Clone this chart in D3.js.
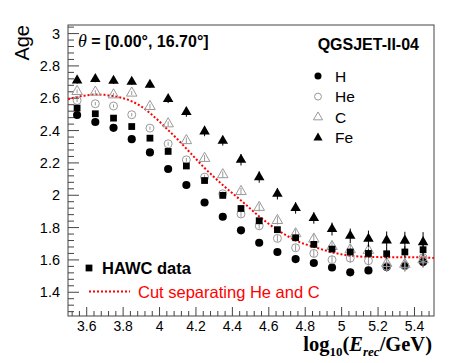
<!DOCTYPE html>
<html>
<head>
<meta charset="utf-8">
<script src="https://cdn.jsdelivr.net/npm/d3@7"></script>
<style>
  body { margin: 0; background: #fff; }
  svg { display: block; }
  .tick text { font-family: "Liberation Sans", Arial, sans-serif; }
</style>
</head>
<body>
<svg id="chart" width="457" height="363"></svg>
<script>
'use strict';

// energy bins, log10(E/GeV)
var bins = [3.55, 3.65, 3.75, 3.85, 3.95, 4.05, 4.15, 4.25, 4.35, 4.45,
            4.55, 4.65, 4.75, 4.85, 4.95, 5.05, 5.15, 5.25, 5.35, 5.45];

var ageH    = [2.493, 2.450, 2.414, 2.344, 2.262, 2.159, 2.060, 1.952, 1.864, 1.780,
               1.703, 1.646, 1.602, 1.578, 1.550, 1.520, 1.532, 1.553, 1.561, 1.584];
var ageHe   = [2.583, 2.563, 2.549, 2.495, 2.412, 2.315, 2.216, 2.109, 2.006, 1.881,
               1.808, 1.730, 1.672, 1.637, 1.598, 1.608, 1.592, 1.557, 1.561, 1.610];
var ageC    = [2.639, 2.635, 2.618, 2.629, 2.546, 2.439, 2.335, 2.225, 2.124, 2.020,
               1.922, 1.841, 1.759, 1.726, 1.680, 1.660, 1.656, 1.575, 1.570, 1.598];
var ageFe   = [2.707, 2.716, 2.705, 2.699, 2.680, 2.592, 2.512, 2.392, 2.334, 2.216,
               2.109, 2.006, 1.918, 1.856, 1.788, 1.746, 1.728, 1.718, 1.716, 1.707];
var ageHAWC = [2.536, 2.501, 2.474, 2.422, 2.350, 2.268, 2.178, 2.088, 1.996, 1.915,
               1.839, 1.784, 1.734, 1.693, 1.664, 1.646, 1.637, 1.635, 1.646, 1.660];

var errH    = [0.008, 0.008, 0.008, 0.008, 0.008, 0.008, 0.01, 0.01, 0.01, 0.012,
               0.012, 0.012, 0.015, 0.015, 0.018, 0.02, 0.022, 0.028, 0.03, 0.032];
var errHe   = [0.01, 0.01, 0.01, 0.01, 0.01, 0.012, 0.012, 0.015, 0.015, 0.018,
               0.018, 0.02, 0.02, 0.022, 0.025, 0.028, 0.03, 0.035, 0.035, 0.04];
var errC    = [0.012, 0.012, 0.012, 0.012, 0.014, 0.015, 0.018, 0.02, 0.02, 0.022,
               0.025, 0.025, 0.028, 0.03, 0.03, 0.035, 0.038, 0.04, 0.045, 0.05];
var errFe   = [0.02, 0.02, 0.02, 0.02, 0.02, 0.025, 0.03, 0.03, 0.03, 0.035,
               0.035, 0.035, 0.035, 0.035, 0.04, 0.045, 0.05, 0.055, 0.055, 0.062];
var errHAWC = [0.005, 0.005, 0.005, 0.005, 0.006, 0.006, 0.008, 0.008, 0.01, 0.01,
               0.012, 0.012, 0.015, 0.015, 0.018, 0.02, 0.025, 0.03, 0.035, 0.04];

// red dotted cut curve (He / C separation)
var cutX = [3.50, 3.55, 3.60, 3.65, 3.70, 3.75, 3.80, 3.85, 3.90, 3.95, 4.00, 4.05, 4.10,
            4.15, 4.20, 4.25, 4.30, 4.35, 4.40, 4.45, 4.50, 4.55, 4.60, 4.65, 4.70, 4.75,
            4.80, 4.85, 4.90, 4.95, 5.00, 5.05, 5.10, 5.15, 5.25, 5.35, 5.45, 5.51];
var cutY = [2.590, 2.605, 2.615, 2.620, 2.618, 2.610, 2.598, 2.578, 2.548, 2.505, 2.455, 2.400, 2.345,
            2.285, 2.225, 2.165, 2.112, 2.060, 2.012, 1.965, 1.915, 1.866, 1.822, 1.782, 1.748, 1.717,
            1.695, 1.678, 1.660, 1.644, 1.632, 1.623, 1.618, 1.615, 1.614, 1.614, 1.612, 1.609];

var xMajor = [3.6, 3.8, 4, 4.2, 4.4, 4.6, 4.8, 5, 5.2, 5.4];
var yMajor = [1.4, 1.6, 1.8, 2, 2.2, 2.4, 2.6, 2.8, 3];

var svg = d3.select("#chart");
var width = +svg.attr("width"),
    height = +svg.attr("height");

var frame = { left: 68, right: 434, top: 25, bottom: 316 };

var x = d3.scaleLinear().domain([3.5, 5.51]).range([frame.left, frame.right]);
var y = d3.scaleLinear().domain([1.25, 3.05]).range([frame.bottom, frame.top]);

var axisColor = "#444";
var sans = '"Liberation Sans", Arial, sans-serif';
var serif = '"Liberation Serif", "Times New Roman", serif';

svg.append("rect").attr("width", width).attr("height", height).attr("fill", "#fff");

// frame
svg.append("rect")
    .attr("x", frame.left).attr("y", frame.top)
    .attr("width", frame.right - frame.left)
    .attr("height", frame.bottom - frame.top)
    .attr("fill", "none")
    .attr("stroke", axisColor)
    .attr("stroke-width", 1);

// minor ticks every 0.04
var xMinor = d3.range(3.52, 5.51, 0.04).filter(function (v) {
    return !xMajor.some(function (m) { return Math.abs(m - v) < 1e-6; });
});
var yMinor = d3.range(1.28, 3.05, 0.04).filter(function (v) {
    return !yMajor.some(function (m) { return Math.abs(m - v) < 1e-6; });
});

function styleAxis(g) {
    g.select(".domain").remove();
    g.selectAll("line").attr("stroke", axisColor);
}

svg.append("g")
    .attr("transform", "translate(0," + frame.bottom + ")")
    .call(d3.axisBottom(x).tickValues(xMinor).tickSize(-5).tickFormat(""))
    .call(styleAxis);

svg.append("g")
    .attr("transform", "translate(0," + frame.bottom + ")")
    .call(d3.axisBottom(x).tickValues(xMajor).tickSize(-9).tickPadding(0)
        .tickFormat(function (d) { return d3.format("")(d); }))
    .call(styleAxis)
    .call(function (g) {
        g.selectAll("text")
            .attr("y", 15)
            .attr("dy", 0)
            .attr("fill", "#000")
            .style("font-size", "14px");
    });

svg.append("g")
    .attr("transform", "translate(" + frame.left + ",0)")
    .call(d3.axisLeft(y).tickValues(yMinor).tickSize(-6).tickFormat(""))
    .call(styleAxis);

svg.append("g")
    .attr("transform", "translate(" + frame.left + ",0)")
    .call(d3.axisLeft(y).tickValues(yMajor).tickSize(-11).tickPadding(0)
        .tickFormat(function (d) { return d3.format("")(d); }))
    .call(styleAxis)
    .call(function (g) {
        g.selectAll("text")
            .attr("x", -8)
            .attr("dy", "0.36em")
            .attr("fill", "#000")
            .style("font-size", "14.5px");
    });

// axis titles
svg.append("text")
    .attr("transform", "translate(29," + frame.top + ") rotate(-90)")
    .attr("text-anchor", "end")
    .attr("font-family", sans)
    .attr("font-size", "20px")
    .text("Age");

var xt = svg.append("text")
    .attr("x", 432).attr("y", 351)
    .attr("text-anchor", "end")
    .attr("font-family", serif)
    .attr("font-weight", "bold")
    .attr("font-size", "20.5px");
xt.append("tspan").text("log");
xt.append("tspan").attr("font-size", "13px").attr("dy", 5).text("10");
xt.append("tspan").attr("dy", -5).text("(");
xt.append("tspan").attr("font-style", "italic").text("E");
xt.append("tspan").attr("font-style", "italic").attr("font-size", "13px").attr("dy", 5).text("rec");
xt.append("tspan").attr("dy", -5).text("/GeV)");

// cut curve
var line = d3.line()
    .x(function (d) { return x(d[0]); })
    .y(function (d) { return y(d[1]); })
    .curve(d3.curveMonotoneX);

svg.append("path")
    .datum(d3.zip(cutX, cutY))
    .attr("d", line)
    .attr("fill", "none")
    .attr("stroke", "#f00")
    .attr("stroke-width", 2)
    .attr("stroke-dasharray", "2,2");

// series
var series = [
    { name: "H",    vals: ageH,    errs: errH,    shape: d3.symbolCircle,   size: 52, fill: "#000", stroke: "none", bar: "#000" },
    { name: "He",   vals: ageHe,   errs: errHe,   shape: d3.symbolCircle,   size: 50, fill: "none", stroke: "#999", bar: "#999" },
    { name: "C",    vals: ageC,    errs: errC,    shape: d3.symbolTriangle, size: 48, fill: "none", stroke: "#999", bar: "#999" },
    { name: "Fe",   vals: ageFe,   errs: errFe,   shape: d3.symbolTriangle, size: 48, fill: "#000", stroke: "none", bar: "#000" },
    { name: "HAWC", vals: ageHAWC, errs: errHAWC, shape: d3.symbolSquare,   size: 46, fill: "#000", stroke: "none", bar: "#000" }
];

var symbol = d3.symbol();

series.forEach(function (s) {
    var g = svg.append("g").attr("class", "series-" + s.name);
    var pts = bins.map(function (b, i) { return { x: b, v: s.vals[i], e: s.errs[i] }; });

    g.selectAll("line")
        .data(pts)
        .enter().append("line")
        .attr("x1", function (d) { return x(d.x); })
        .attr("x2", function (d) { return x(d.x); })
        .attr("y1", function (d) { return y(d.v - d.e); })
        .attr("y2", function (d) { return y(d.v + d.e); })
        .attr("stroke", s.bar)
        .attr("stroke-width", 1);

    g.selectAll("path")
        .data(pts)
        .enter().append("path")
        .attr("transform", function (d) { return "translate(" + x(d.x) + "," + y(d.v) + ")"; })
        .attr("d", symbol.type(s.shape).size(s.size)())
        .attr("fill", s.fill)
        .attr("stroke", s.stroke)
        .attr("stroke-width", 1);
});

// header texts
var th = svg.append("text")
    .attr("x", 78).attr("y", 47)
    .attr("font-family", sans)
    .attr("font-weight", "bold")
    .attr("font-size", "16px");
th.append("tspan").attr("font-family", serif).attr("font-style", "italic").attr("font-weight", "normal").attr("font-size", "18px").text("θ");
th.append("tspan").text(" = [0.00°, 16.70°]");

svg.append("text")
    .attr("x", 419).attr("y", 50)
    .attr("text-anchor", "end")
    .attr("font-family", sans)
    .attr("font-weight", "bold")
    .attr("font-size", "16px")
    .text("QGSJET-II-04");

// legend top right
var legendRows = series.slice(0, 4);
var leg = svg.append("g").selectAll("g")
    .data(legendRows)
    .enter().append("g")
    .attr("transform", function (d, i) { return "translate(318," + (76 + i * 20.6) + ")"; });

leg.append("path")
    .attr("d", function (d) { return symbol.type(d.shape).size(d.size * 0.75)(); })
    .attr("fill", function (d) { return d.fill; })
    .attr("stroke", function (d) { return d.stroke; });

leg.append("text")
    .attr("x", 17).attr("y", 5.5)
    .attr("font-family", sans)
    .attr("font-size", "15.5px")
    .text(function (d) { return d.name; });

// legend bottom left
svg.append("path")
    .attr("transform", "translate(89,268)")
    .attr("d", symbol.type(d3.symbolSquare).size(46)())
    .attr("fill", "#000");

svg.append("text")
    .attr("x", 102).attr("y", 274)
    .attr("font-family", sans)
    .attr("font-weight", "bold")
    .attr("font-size", "16.5px")
    .text("HAWC data");

svg.append("line")
    .attr("x1", 89).attr("x2", 130)
    .attr("y1", 291.5).attr("y2", 291.5)
    .attr("stroke", "#f00")
    .attr("stroke-width", 2)
    .attr("stroke-dasharray", "2,2");

svg.append("text")
    .attr("x", 138).attr("y", 297.5)
    .attr("fill", "#f00")
    .attr("font-family", sans)
    .attr("font-size", "16.5px")
    .text("Cut separating He and C");
</script>
</body>
</html>
